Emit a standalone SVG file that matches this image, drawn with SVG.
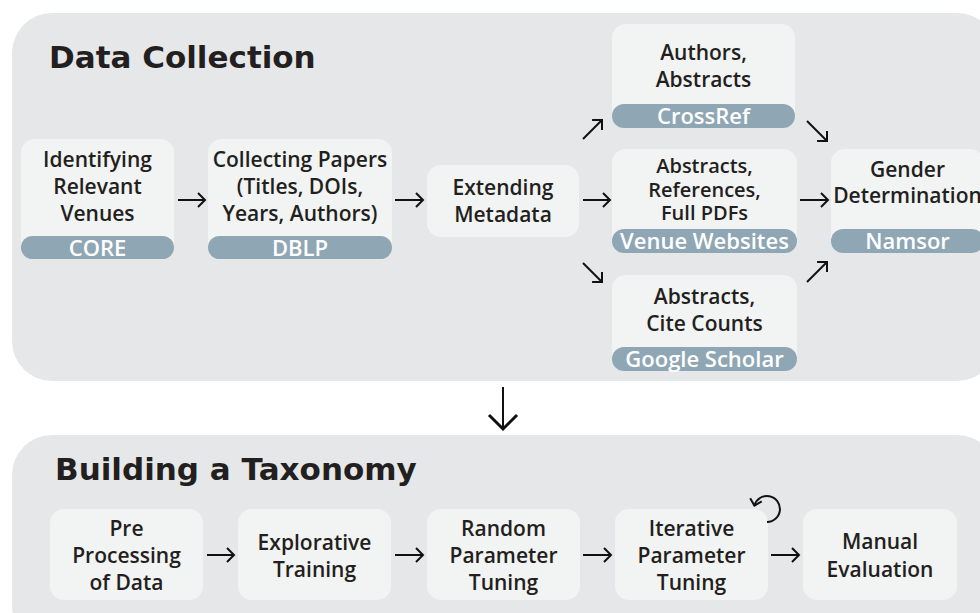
<svg xmlns="http://www.w3.org/2000/svg" width="980" height="613" viewBox="0 0 980 613">
<defs>
<marker id="ah" markerUnits="userSpaceOnUse" viewBox="-12 -12 16 24" refX="0" refY="0" markerWidth="16" markerHeight="24" orient="auto" overflow="visible">
<path d="M-7,-7 L0,0 L-7,7" fill="none" stroke="#111" stroke-width="2" stroke-linejoin="miter"/>
</marker>
<marker id="ahBig" markerUnits="userSpaceOnUse" viewBox="-20 -20 24 40" refX="0" refY="0" markerWidth="24" markerHeight="40" orient="auto" overflow="visible">
<path d="M-14,-14 L0,0 L-14,14" fill="none" stroke="#111" stroke-width="3"/>
</marker>
<marker id="ahSm" markerUnits="userSpaceOnUse" viewBox="-12 -12 16 24" refX="0" refY="0" markerWidth="16" markerHeight="24" orient="auto" overflow="visible">
<path d="M-6,-6 L0,0 L-6,6" fill="none" stroke="#111" stroke-width="2"/>
</marker>
</defs>
<style>
.panel{fill:#e6e7e8}
.node{fill:#f2f3f3}
.tag{fill:#8fa6b4}
.t{font-family:"Open Sans","Liberation Sans",sans-serif;font-weight:600;font-size:21px;fill:#231f20;text-anchor:middle}
.ts{font-size:20px}
.tt{font-family:"Open Sans","Liberation Sans",sans-serif;font-weight:600;font-size:22px;fill:#ffffff;text-anchor:middle}
.title{font-family:"DejaVu Sans",Verdana,sans-serif;font-weight:bold;font-size:31px;fill:#231f20}
.c{fill:none;stroke:#111;stroke-width:2}
</style>
<rect width="980" height="613" fill="#ffffff"/>
<g id="panel-data-collection">
<rect class="panel" x="12" y="13" width="985" height="368" rx="40"/>
<text class="title" x="49" y="68">Data Collection</text>
</g>
<g id="panel-taxonomy">
<rect class="panel" x="12" y="435" width="985" height="210" rx="40"/>
<text class="title" x="55" y="480">Building a Taxonomy</text>
</g>
<g id="n-venues">
<rect class="node" x="21" y="139" width="153" height="120" rx="14"/>
<rect class="tag" x="21" y="236" width="153" height="23" rx="11.5"/>
<text class="t" x="97.5" y="167">Identifying</text>
<text class="t" x="97.5" y="194">Relevant</text>
<text class="t" x="97.5" y="221">Venues</text>
<text class="tt" x="97.5" y="255.5">CORE</text>
</g>
<g id="n-papers">
<rect class="node" x="208" y="139" width="184" height="120" rx="14"/>
<rect class="tag" x="208" y="236" width="184" height="23" rx="11.5"/>
<text class="t" x="300" y="167">Collecting Papers</text>
<text class="t" x="300" y="194">(Titles, DOIs,</text>
<text class="t" x="300" y="221">Years, Authors)</text>
<text class="tt" x="300" y="255.5">DBLP</text>
</g>
<g id="n-extending">
<rect class="node" x="427" y="165" width="152" height="72" rx="14"/>
<text class="t" x="503" y="195">Extending</text>
<text class="t" x="503" y="222">Metadata</text>
</g>
<g id="n-crossref">
<rect class="node" x="612" y="24" width="183" height="104" rx="14"/>
<rect class="tag" x="612" y="104" width="183" height="24" rx="12"/>
<text class="t" x="703.5" y="60">Authors,</text>
<text class="t" x="703.5" y="87">Abstracts</text>
<text class="tt" x="703.5" y="124">CrossRef</text>
</g>
<g id="n-venuesites">
<rect class="node" x="612" y="149" width="185" height="104" rx="14"/>
<rect class="tag" x="612" y="229" width="185" height="24" rx="12"/>
<text class="t ts" x="704.5" y="173">Abstracts,</text>
<text class="t ts" x="704.5" y="196.5">References,</text>
<text class="t ts" x="704.5" y="220">Full PDFs</text>
<text class="tt" x="704.5" y="249">Venue Websites</text>
</g>
<g id="n-scholar">
<rect class="node" x="612" y="275" width="185" height="96" rx="14"/>
<rect class="tag" x="612" y="347" width="185" height="24" rx="12"/>
<text class="t" x="704.5" y="304">Abstracts,</text>
<text class="t" x="704.5" y="331">Cite Counts</text>
<text class="tt" x="704.5" y="367">Google Scholar</text>
</g>
<g id="n-gender">
<rect class="node" x="831" y="149" width="153" height="104" rx="14"/>
<rect class="tag" x="831" y="229" width="153" height="24" rx="12"/>
<text class="t" x="907.5" y="177">Gender</text>
<text class="t" x="907.5" y="203">Determination</text>
<text class="tt" x="907.5" y="249">Namsor</text>
</g>
<g id="n-preprocessing">
<rect class="node" x="50" y="509" width="153" height="91" rx="14"/>
<text class="t" x="126.5" y="536">Pre</text>
<text class="t" x="126.5" y="563">Processing</text>
<text class="t" x="126.5" y="590">of Data</text>
</g>
<g id="n-explorative">
<rect class="node" x="238" y="509" width="153" height="91" rx="14"/>
<text class="t" x="314.5" y="550">Explorative</text>
<text class="t" x="314.5" y="577">Training</text>
</g>
<g id="n-random">
<rect class="node" x="427" y="509" width="153" height="91" rx="14"/>
<text class="t" x="503.5" y="536">Random</text>
<text class="t" x="503.5" y="563">Parameter</text>
<text class="t" x="503.5" y="590">Tuning</text>
</g>
<g id="n-iterative">
<rect class="node" x="615" y="509" width="153" height="91" rx="14"/>
<text class="t" x="691.5" y="536">Iterative</text>
<text class="t" x="691.5" y="563">Parameter</text>
<text class="t" x="691.5" y="590">Tuning</text>
</g>
<g id="n-manual">
<rect class="node" x="803" y="509" width="154" height="91" rx="14"/>
<text class="t" x="880" y="549">Manual</text>
<text class="t" x="880" y="577">Evaluation</text>
</g>
<g id="connectors">
<path class="c" d="M178,200 H205" marker-end="url(#ah)"/>
<path class="c" d="M395,200 H423" marker-end="url(#ah)"/>
<path class="c" d="M583,139 L602,120" marker-end="url(#ah)"/>
<path class="c" d="M583,200 H610" marker-end="url(#ah)"/>
<path class="c" d="M583,263 L602,282" marker-end="url(#ah)"/>
<path class="c" d="M807,121 L827,141" marker-end="url(#ah)"/>
<path class="c" d="M800,200 H828" marker-end="url(#ah)"/>
<path class="c" d="M807,282 L827,262" marker-end="url(#ah)"/>
<path class="c" d="M503,387 V429" stroke-width="3" marker-end="url(#ahBig)"/>
<path class="c" d="M207,555 H234" marker-end="url(#ah)"/>
<path class="c" d="M395,555 H423" marker-end="url(#ah)"/>
<path class="c" d="M583,555 H611" marker-end="url(#ah)"/>
<path class="c" d="M771,555 H799" marker-end="url(#ah)"/>
<path class="c" d="M767,522 A13,13 0 1 0 754.4,505.6" marker-end="url(#ahSm)"/>
</g>
</svg>
